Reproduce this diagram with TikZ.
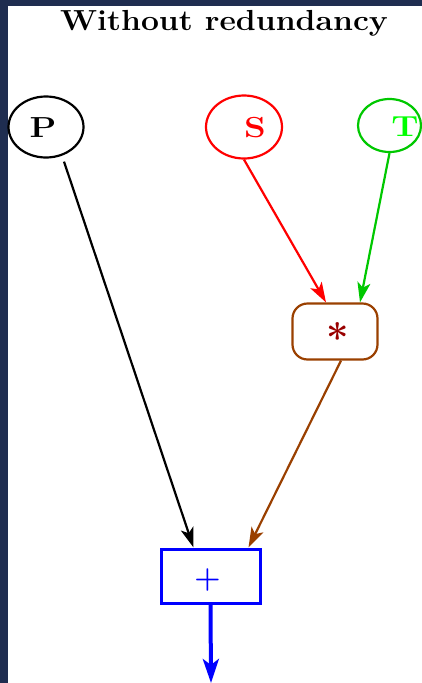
\documentclass[tikz,border=0pt]{standalone}
\usepackage{fontspec}
\setmainfont{Latin Modern Roman}
\usetikzlibrary{arrows.meta,shapes.geometric}
\definecolor{navy}{HTML}{1F2D50}
\definecolor{tgreen}{HTML}{00C800}
\definecolor{tlime}{HTML}{00FF00}
\definecolor{brownline}{HTML}{9A4000}
\definecolor{starred}{HTML}{990000}
\tikzset{
  circ/.style={ellipse,draw,line width=2.2pt,inner sep=0pt},
  lbl/.style={font=\fontsize{29}{30}\selectfont\bfseries,inner sep=0pt,xscale=1.2},
  conn/.style={line width=2.2pt,-{Stealth[length=20pt,width=13pt,inset=5pt]}},
}
\begin{document}
\begin{tikzpicture}[x=1pt,y=-1pt]
\fill[navy] (0,0) rectangle (422,683);
\fill[white] (8,6) rectangle (422,683);
\useasboundingbox (0,0) rectangle (422,683);
\node[font=\fontsize{29}{30}\selectfont\bfseries,xscale=1.1,anchor=base] (title) at (224,30) {Without redundancy};
% input nodes
\node[circ,black,minimum width=75pt,minimum height=61pt] (P) at (46,127) {};
\node[lbl,black] (Pl) at (43,128) {P};
\node[circ,red,minimum width=76pt,minimum height=63pt] (S) at (244,127) {};
\node[lbl,red] (Sl) at (255,128) {S};
\node[circ,tgreen,minimum width=63pt,minimum height=53pt] (T) at (389.5,125.5) {};
\node[lbl,tlime] (Tl) at (405,127) {T};
% multiply node
\node[draw=brownline,line width=2.2pt,rounded corners=15pt,minimum width=85pt,minimum height=56pt] (star) at (335,331.5) {};
\node[text=starred,font=\fontsize{40}{40}\selectfont\bfseries,inner sep=0pt,anchor=base] (starl) at (338,352) {*};
% add node
\node[draw=blue,line width=3pt,minimum width=99pt,minimum height=54pt] (plus) at (210.5,576) {};
\node[text=blue,font=\fontsize{30}{30}\selectfont\bfseries,inner sep=0pt] (plusl) at (207.5,580) {+};
\coordinate (out) at (211,683);
% connectors
\draw[conn,black] ([xshift=18pt,yshift=-3pt]P.south) -- ([xshift=-17pt]plus.north);
\draw[conn,red] (S.south) -- ([xshift=-9pt]star.north);
\draw[conn,tgreen] (T.south) -- ([xshift=25pt]star.north);
\draw[conn,brownline] ([xshift=6pt]star.south) -- ([xshift=38pt]plus.north);
\draw[blue,line width=4pt,-{Stealth[length=24pt,width=16pt,inset=6pt]}] (plus.south) -- (out);
\end{tikzpicture}
\end{document}
